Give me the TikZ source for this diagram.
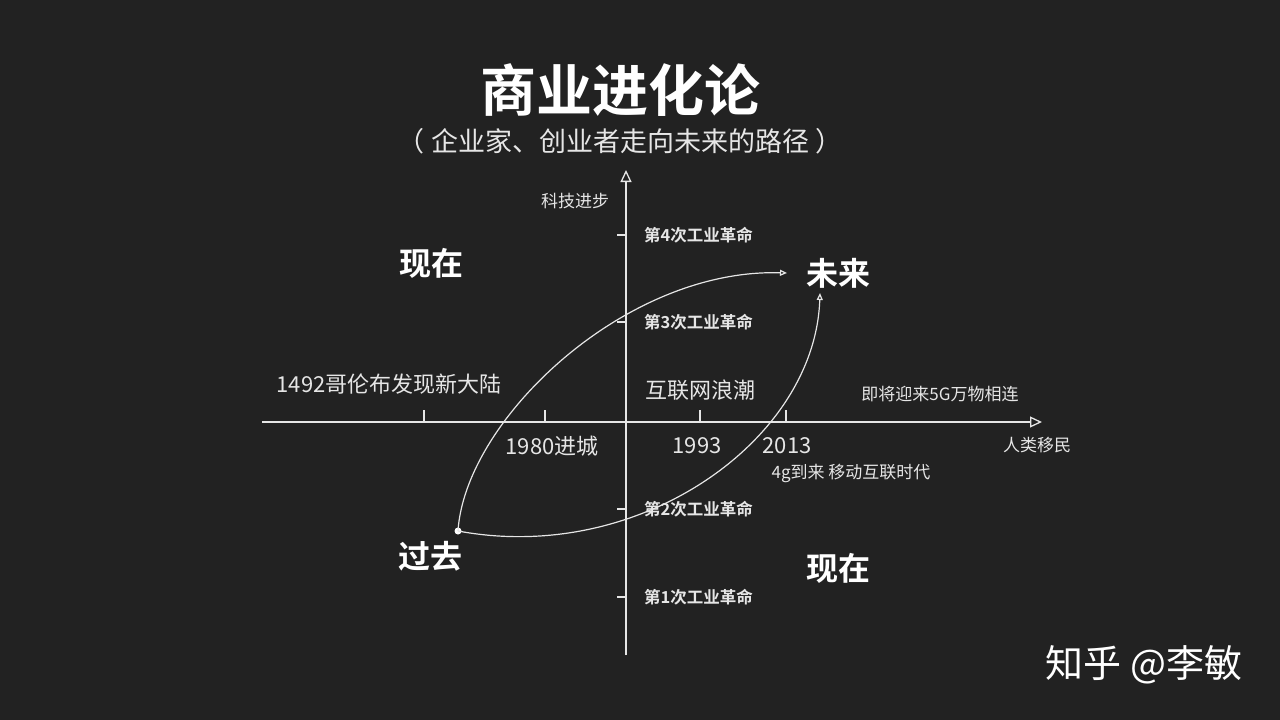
\documentclass[tikz,border=0pt]{standalone}
\usepackage{fontspec}
\usetikzlibrary{arrows.meta}
\newfontfamily\cjk{Noto Sans CJK SC}
\newfontfamily\cjkb{Noto Sans CJK SC Bold}
\definecolor{bg}{HTML}{222222}
\definecolor{fg}{HTML}{E6E6E6}
\begin{document}
\begin{tikzpicture}[x=1pt,y=-1pt,
  txt/.style={text=fg,font=\cjk\fontsize{22}{22}\selectfont,inner sep=0pt},
  sm/.style={text=fg,font=\cjk\fontsize{17}{17}\selectfont,inner sep=0pt},
  rev/.style={text=fg,font=\cjkb\fontsize{16.5}{16.5}\selectfont,inner sep=0pt,anchor=west},
  big/.style={text=white,font=\cjkb\fontsize{32}{32}\selectfont,inner sep=0pt},
  ax/.style={draw=fg,line width=1.3pt,-{Triangle[open,length=12pt,width=11pt]}},
  tk/.style={draw=fg,line width=1.2pt},
  cv/.style={draw=fg,line width=1.2pt,-{Triangle[open,length=7pt,width=6pt]}}]
\fill[bg] (0,0) rectangle (1280,720);
\useasboundingbox (0,0) rectangle (1280,720);
\node[text=white,font=\cjkb\fontsize{56}{56}\selectfont,inner sep=0pt] (title) at (620,90) {商业进化论};
\node[text=fg,font=\cjk\fontsize{27}{27}\selectfont,inner sep=0pt] (sub) at (620,141) {（ 企业家、创业者走向未来的路径 ）};
\coordinate (xl) at (262,422); \coordinate (xr) at (1042,422);
\coordinate (yb) at (626,655); \coordinate (yt) at (626,170);
\draw[ax] (xl) -- (xr);
\draw[ax] (yb) -- (yt);
\node[sm] (ylab) at (575,201) {科技进步};
\node[sm] (xlab) at (1037,445) {人类移民};
\foreach \y/\n in {235/4,322/3,509/2,597/1}{
  \draw[tk] (617,\y) -- (626,\y);
  \node[rev] at (644,\y) {第\n 次工业革命};
}
\foreach \x in {424,545,700,786}{\draw[tk] (\x,410) -- (\x,422);}
\node[txt] (a) at (389,384) {1492哥伦布发现新大陆};
\node[txt] (b) at (552,446) {1980进城};
\node[txt] (c) at (700,390) {互联网浪潮};
\node[txt] (d) at (697,446) {1993};
\node[txt] (e) at (787,446) {2013};
\node[sm] (f) at (851,473) {4g到来 移动互联时代};
\node[sm] (g) at (940,394) {即将迎来5G万物相连};
\node[big] (now1) at (431,263) {现在};
\node[big] (now2) at (838,568) {现在};
\node[big] (fut) at (838,273) {未来};
\node[big] (past) at (430,556) {过去};
\coordinate (p0) at (458,531);
\coordinate (e1) at (787,273);
\coordinate (e2) at (820,293);
\fill[white] (p0) circle (3.5);
\draw[cv] (p0) .. controls (465,420) and (625,268) .. (e1);
\draw[cv] (p0) .. controls (640,565) and (815,440) .. (e2);
\node[text=white,font=\cjk\fontsize{38}{38}\selectfont,inner sep=0pt] (zh) at (1144,665) {知乎 @李敏};
\end{tikzpicture}
\end{document}
